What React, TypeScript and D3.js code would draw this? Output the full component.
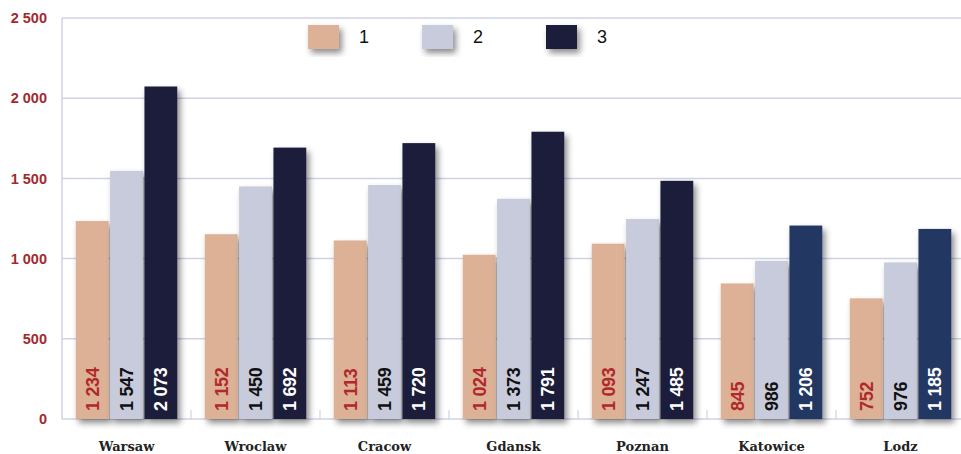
import React from "react";
import * as d3 from "d3";

const cities = ["Warsaw", "Wroclaw", "Cracow", "Gdansk", "Poznan", "Katowice", "Lodz"];
const seriesNames = ["1", "2", "3"];
const series1 = [1234, 1152, 1113, 1024, 1093, 845, 752];
const series2 = [1547, 1450, 1459, 1373, 1247, 986, 976];
const series3 = [2073, 1692, 1720, 1791, 1485, 1206, 1185];
const yTicks = [0, 500, 1000, 1500, 2000, 2500];
// cities whose third bar is drawn in the lighter navy
const navyCities = ["Katowice", "Lodz"];

const W = 961;
const H = 454;
const left = 62;
const right = 965;
const top = 18;
const bottom = 419;

const fills = ["#dcb195", "#c8cbdb", "#1a1e3b"];
const navyFill = "#243862";
const labelColors = ["#b0282b", "#111111", "#ffffff"];
const gridColor = "#cfd2e4";

const fmt = (v: number) => {
  const s = String(v);
  return s.length > 3 ? s.slice(0, s.length - 3) + " " + s.slice(-3) : s;
};

export default function App() {
  const values = [series1, series2, series3];
  const y = d3.scaleLinear().domain([0, 2500]).range([bottom, top]);
  const x0 = d3.scaleBand<string>().domain(cities).range([left, right]).padding(0);
  const x1 = d3
    .scaleBand<string>()
    .domain(seriesNames)
    .range([0, x0.bandwidth()])
    .paddingInner(0.045)
    .paddingOuter(0.4);

  const legendX = [308, 422, 546];

  return (
    <svg width={W} height={H} style={{ position: "absolute", left: 0, top: 0 }}>
      <defs>
        <filter id="shade" x="-30%" y="-20%" width="160%" height="150%">
          <feDropShadow dx="3" dy="4" stdDeviation="3" floodColor="#000" floodOpacity="0.45" />
        </filter>
      </defs>
      <rect width={W} height={H} fill="#fff" />

      {/* grid */}
      {yTicks.map((t) => (
        <g key={t}>
          <line x1={left} x2={W} y1={y(t)} y2={y(t)} stroke={gridColor} strokeWidth={1.5} />
          <text
            x={47}
            y={y(t)}
            dy="0.36em"
            textAnchor="end"
            fontFamily="Liberation Sans, Arial, sans-serif"
            fontWeight="bold"
            fontSize={14.5}
            fill="#a12a2d"
          >
            {fmt(t)}
          </text>
        </g>
      ))}
      <line x1={left} x2={left} y1={top} y2={bottom} stroke={gridColor} strokeWidth={1.5} />
      {cities.slice(1).map((c) => (
        <line
          key={c}
          x1={x0(c)!}
          x2={x0(c)!}
          y1={bottom - 9}
          y2={bottom}
          stroke={gridColor}
          strokeWidth={1.2}
        />
      ))}

      {/* bars */}
      {cities.map((c, ci) => (
        <g key={c} transform={`translate(${x0(c)},0)`}>
          {seriesNames.map((s, si) => {
            const v = values[si][ci];
            const bx = x1(s)!;
            const fill = si === 2 && navyCities.includes(c) ? navyFill : fills[si];
            return (
              <rect
                key={s}
                x={bx}
                y={y(v)}
                width={x1.bandwidth()}
                height={bottom - y(v)}
                fill={fill}
                filter="url(#shade)"
              />
            );
          })}
          {seriesNames.map((s, si) => {
            const v = values[si][ci];
            const cx = x1(s)! + x1.bandwidth() / 2;
            return (
              <text
                key={s}
                transform={`translate(${cx},${bottom - 8}) rotate(-90)`}
                dy="0.36em"
                textAnchor="start"
                fontFamily="Liberation Sans, Arial, sans-serif"
                fontWeight="bold"
                fontSize={18}
                letterSpacing={-0.3}
                fill={labelColors[si]}
              >
                {fmt(v)}
              </text>
            );
          })}
          <text
            x={x0.bandwidth() / 2}
            y={451}
            textAnchor="middle"
            fontFamily="DejaVu Serif, serif"
            fontWeight="bold"
            fontSize={13}
            fill="#222"
          >
            {c}
          </text>
        </g>
      ))}

      {/* legend */}
      {seriesNames.map((s, i) => (
        <g key={s} transform={`translate(${legendX[i]},25)`}>
          <rect width={31} height={24} fill={fills[i]} filter="url(#shade)" />
          <text
            x={51}
            y={12}
            dy="0.36em"
            fontFamily="Liberation Sans, Arial, sans-serif"
            fontSize={18}
            fill="#111"
          >
            {s}
          </text>
        </g>
      ))}
    </svg>
  );
}
